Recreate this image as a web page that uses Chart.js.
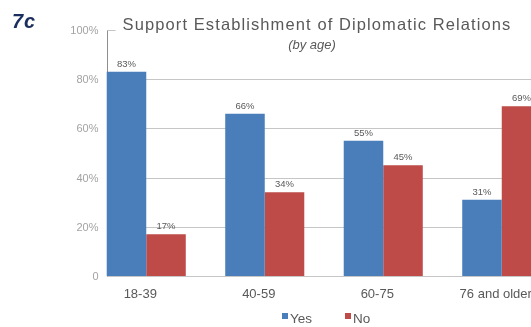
<!DOCTYPE html>
<html>
<head>
<meta charset="utf-8">
<script src="https://cdn.jsdelivr.net/npm/chart.js@4/dist/chart.umd.min.js"></script>
<style>
  html, body { margin: 0; padding: 0; background: #fff; }
  #wrap { position: relative; width: 531px; height: 327px; overflow: hidden; }
  canvas { display: block; }
</style>
</head>
<body>
<div id="wrap"><canvas id="ageChart" width="561" height="327"></canvas></div>
<script>
// survey shares by age group
var ageGroups = ['18-39', '40-59', '60-75', '76 and older'];
var yesShare = [83, 66, 55, 31];
var noShare = [17, 34, 45, 69];
var seriesNames = ['Yes', 'No'];
var seriesColors = ['#4A7EBB', '#BE4B48'];

var FONT = '"Liberation Sans", Arial, Helvetica, sans-serif';

function pctLabel(v) { return v === 0 ? '0' : v + '%'; }

// gridlines, left axis and its labels start at the first bar, not at the plot edge
var decorations = {
    id: 'decorations',
    beforeDatasetsDraw: function(chart) {
        var ctx = chart.ctx, area = chart.chartArea, y = chart.scales.y;
        var first = chart.getDatasetMeta(0).data[0];
        var axisX = Math.round(first.x - first.width / 2) + 0.5;
        ctx.save();
        ctx.lineWidth = 1;
        ctx.strokeStyle = '#c6c6c6';
        y.ticks.forEach(function(t) {
            var py = Math.round(y.getPixelForValue(t.value)) + 0.5;
            ctx.beginPath();
            ctx.moveTo(axisX, py);
            ctx.lineTo(area.right, py);
            ctx.stroke();
        });
        ctx.strokeStyle = '#8e8e8e';
        ctx.beginPath();
        ctx.moveTo(axisX, Math.round(y.getPixelForValue(y.max)) + 0.5);
        ctx.lineTo(axisX, Math.round(y.getPixelForValue(0)) + 0.5);
        ctx.stroke();

        ctx.font = '11px ' + FONT;
        ctx.fillStyle = '#a3a3a3';
        ctx.textAlign = 'right';
        ctx.textBaseline = 'middle';
        y.ticks.forEach(function(t) {
            ctx.fillText(pctLabel(t.value), axisX - 9, y.getPixelForValue(t.value) + 1);
        });
        ctx.restore();
    },
    afterDatasetsDraw: function(chart) {
        var ctx = chart.ctx;
        ctx.save();
        ctx.font = '9.5px ' + FONT;
        ctx.fillStyle = '#595959';
        ctx.textAlign = 'center';
        ctx.textBaseline = 'bottom';
        chart.data.datasets.forEach(function(ds, di) {
            chart.getDatasetMeta(di).data.forEach(function(bar, i) {
                ctx.fillText(ds.data[i] + '%', bar.x, bar.y - 3);
            });
        });
        ctx.restore();
    },
    afterDraw: function(chart) {
        var ctx = chart.ctx, area = chart.chartArea;
        ctx.save();

        // title with white backing so the 100% line only shows as a stub
        var title = 'Support Establishment of Diplomatic Relations';
        ctx.font = '16.5px ' + FONT;
        ctx.letterSpacing = '1.1px';
        var tw = ctx.measureText(title).width;
        var tx = 317;
        ctx.fillStyle = '#ffffff';
        ctx.fillRect(tx - tw / 2 - 7, 12, area.right, 24);
        ctx.fillStyle = '#595959';
        ctx.textAlign = 'center';
        ctx.textBaseline = 'alphabetic';
        ctx.fillText(title, tx, 29.5);
        ctx.letterSpacing = '0px';

        ctx.font = 'italic 13px ' + FONT;
        ctx.fillText('(by age)', 312, 49);

        // panel tag
        ctx.font = 'italic bold 20px ' + FONT;
        ctx.letterSpacing = '1px';
        ctx.fillStyle = '#1b2f5e';
        ctx.textAlign = 'left';
        ctx.fillText('7c', 12, 28);
        ctx.letterSpacing = '0px';

        // legend
        ctx.font = '13.5px ' + FONT;
        var lx = 282;
        seriesNames.forEach(function(name, i) {
            ctx.fillStyle = seriesColors[i];
            ctx.fillRect(lx, 313, 6, 6);
            ctx.fillStyle = '#595959';
            ctx.fillText(name, lx + 8, 323);
            lx += 63;
        });
        ctx.restore();
    }
};

var ctx = document.getElementById('ageChart').getContext('2d');
var chart = new Chart(ctx, {
    type: 'bar',
    data: {
        labels: ageGroups,
        datasets: [
            { label: seriesNames[0], data: yesShare, backgroundColor: seriesColors[0], borderWidth: 0 },
            { label: seriesNames[1], data: noShare, backgroundColor: seriesColors[1], borderWidth: 0 }
        ]
    },
    options: {
        responsive: false,
        animation: false,
        layout: { padding: { top: 30, left: 0, right: 0, bottom: 0 } },
        datasets: { bar: { categoryPercentage: 0.667, barPercentage: 1 } },
        plugins: {
            legend: { display: false },
            tooltip: { enabled: false }
        },
        scales: {
            x: {
                grid: { display: false },
                border: { display: false },
                ticks: {
                    color: '#595959',
                    font: { family: FONT, size: 13 },
                    padding: 3,
                    labelOffset: -6,
                    maxRotation: 0
                },
                afterFit: function(scale) { scale.height = 51; }
            },
            y: {
                min: 0,
                max: 100,
                grid: { display: false, drawTicks: false },
                border: { display: false },
                ticks: { stepSize: 20, display: false },
                afterFit: function(scale) { scale.width = 87; }
            }
        }
    },
    plugins: [decorations]
});
</script>
</body>
</html>
